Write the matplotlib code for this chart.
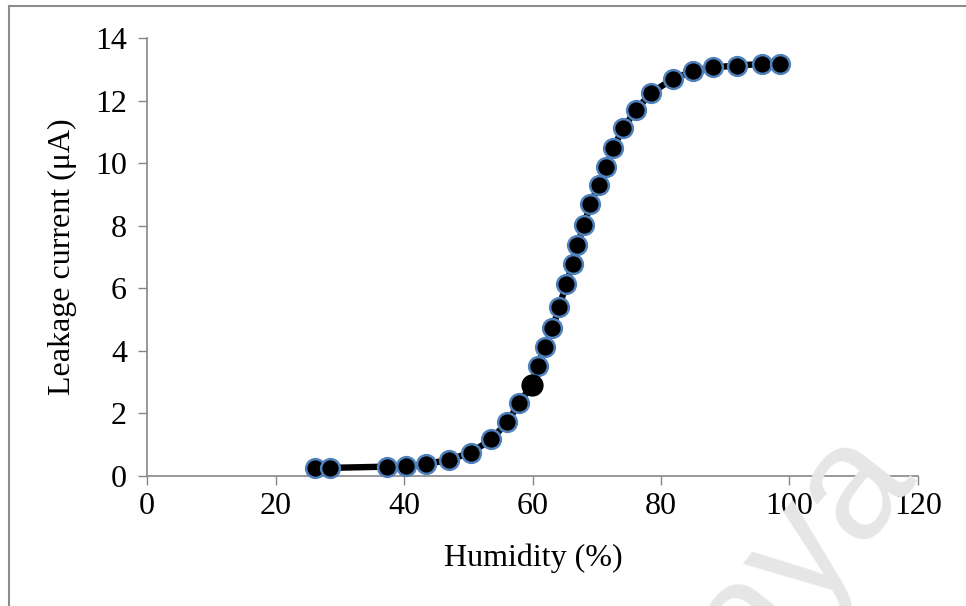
import matplotlib
matplotlib.use("Agg")
import matplotlib.pyplot as plt
from matplotlib.lines import Line2D

humidity = [26.1, 28.5, 37.4, 40.3, 43.5, 47.0, 50.4, 53.6, 56.1, 57.9, 59.9,
            60.8, 61.9, 63.1, 64.2, 65.2, 66.3, 67.0, 68.0, 69.0, 70.3, 71.4,
            72.6, 74.1, 76.1, 78.5, 81.8, 85.0, 88.1, 91.8, 95.7, 98.5]
current = [0.26, 0.26, 0.30, 0.31, 0.38, 0.52, 0.75, 1.17, 1.73, 2.32, 2.91,
           3.53, 4.13, 4.72, 5.41, 6.13, 6.78, 7.38, 8.02, 8.68, 9.30, 9.88,
           10.50, 11.11, 11.70, 12.25, 12.69, 12.94, 13.06, 13.12, 13.17, 13.17]
highlight_index = 10
x_ticks = [0, 20, 40, 60, 80, 100, 120]
y_ticks = [0, 2, 4, 6, 8, 10, 12, 14]

plt.rcParams['font.family'] = ['Liberation Serif', 'DejaVu Serif']

fig = plt.figure(figsize=(9.66, 6.06), dpi=100)

# watermark
fig.text(0.945, 0.225, 'Malaya', fontsize=118, family='Liberation Sans',
         color='#e6e6e6', rotation=52, ha='right', va='baseline',
         rotation_mode='anchor', zorder=0)

ax = fig.add_axes([0.1522, 0.2145, 0.7981, 0.7228])
ax.patch.set_alpha(0)

gray = '#868686'
ax.plot(humidity, current, color='black', lw=4.6, marker='o', ms=13.5,
        mfc='black', mec='#4F81BD', mew=1.8, zorder=3, clip_on=False)
ax.plot([humidity[highlight_index]], [current[highlight_index]], 'o',
        color='black', ms=15, mec='black', zorder=4, clip_on=False)

ax.set_xlim(0, 120)
ax.set_ylim(0, 14)
ax.set_xticks(x_ticks)
ax.set_yticks(y_ticks)
ax.tick_params(axis='both', labelsize=23, colors=gray, labelcolor='black',
               length=6.5, width=1.0, direction='out')
ax.tick_params(axis='y', pad=8)
ax.tick_params(axis='x', pad=5)
for s in ['top', 'right']:
    ax.spines[s].set_visible(False)
for s in ['left', 'bottom']:
    ax.spines[s].set_color(gray)
    ax.spines[s].set_linewidth(1.2)

fig.text(533 / 966, 1 - 558 / 606, 'Humidity (%)', fontsize=23,
         ha='center', va='center')
fig.text(62 / 966, 1 - 257 / 606, 'Leakage current (μA)', fontsize=23,
         ha='center', va='center', rotation=90)

# outer chart frame (only left and top visible)
fig.add_artist(Line2D([9 / 966, 9 / 966], [0, 1 - 6 / 606],
                      transform=fig.transFigure, color='#8c8c8c', lw=1.5))
fig.add_artist(Line2D([9 / 966, 1], [1 - 6 / 606, 1 - 6 / 606],
                      transform=fig.transFigure, color='#8c8c8c', lw=1.5))

fig.savefig('out.png', dpi=100)
